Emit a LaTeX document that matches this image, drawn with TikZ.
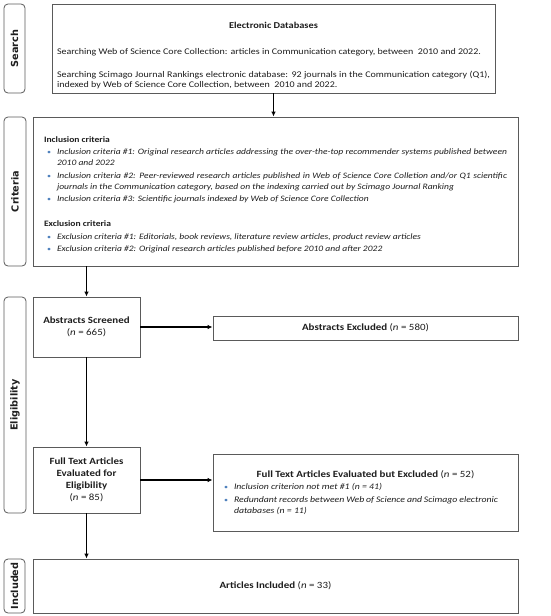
\documentclass[tikz,border=0pt]{standalone}
\usepackage{fontspec}
\setmainfont{Carlito}[FakeStretch=1.15]
\newfontfamily\stagefont{DejaVu Sans}
\usetikzlibrary{arrows.meta,positioning}
\definecolor{linegray}{HTML}{5A5A5A}
\definecolor{dotblue}{HTML}{4F81BD}
\definecolor{inkblack}{HTML}{1E1E1E}
\newcommand{\bulletitem}[1]{\par\vspace{1.5pt}\noindent\hangindent=13pt\hangafter=1\makebox[13pt][l]{\hspace{3pt}\textcolor{dotblue}{\scriptsize\textbullet}}\textit{#1}\par}
\newcommand{\nohyph}{\hyphenpenalty=10000\exhyphenpenalty=10000\relax}
\tikzset{basic/.style={draw=linegray,line width=0.8pt,fill=white,text=inkblack,inner sep=0pt}}
\tikzset{stage/.style={basic,rounded corners=4pt,rotate=90,font=\stagefont\bfseries\fontsize{9.7}{10}\selectfont}}
\tikzset{stepbox/.style={basic,align=center,font=\fontsize{9.5}{12.5}\selectfont}}
\tikzset{listbox/.style={basic,align=justify,font=\fontsize{8.3}{11}\selectfont\nohyph}}
\tikzset{arrow/.style={draw,line width=1.4pt,-{Latex[length=5pt,width=4.5pt]}}}

\begin{document}
\begin{tikzpicture}[x=1pt,y=1pt]
    \useasboundingbox (0,0) rectangle (550,-616);

    % stage labels on the left
    \node[stage,minimum width=89pt,minimum height=21pt] (search) at (14.5,-48.5) {Search};
    \node[stage,minimum width=149pt,minimum height=22pt] (criteria) at (15,-191.5) {Criteria};
    \node[stage,minimum width=216pt,minimum height=22pt] (eligibility) at (15,-405) {Eligibility};
    \node[stage,minimum width=54pt,minimum height=21pt] (included) at (14.5,-586) {Included};

    % search and criteria boxes
    \node[listbox,minimum width=443pt,minimum height=89pt,text width=433pt,font=\fontsize{8.7}{10.5}\selectfont\nohyph] (db) at (273.5,-48.5) {%
        {\centering\rule{0pt}{20pt}\fontsize{9}{10.5}\selectfont\bfseries Electronic Databases\par}
        \vspace{15.5pt}
        Searching Web of Science Core Collection: articles in Communication category, between\ \ 2010 and 2022.\par
        \vspace{12.5pt}
        Searching Scimago Journal Rankings electronic database: 92 journals in the Communication category (Q1), indexed by Web of Science Core Collection, between\ \ 2010 and 2022.\par};
    \node[listbox,minimum width=485pt,minimum height=149pt,text width=463pt] (crit) at (275.5,-191.5) {%
        \rule{0pt}{12pt}\textbf{Inclusion criteria}
        \bulletitem{Inclusion criteria \#1: Original research articles addressing the over-the-top recommender systems published between 2010 and 2022}
        \bulletitem{Inclusion criteria \#2: Peer-reviewed research articles published in Web of Science Core Colletion and/or Q1 scientific journals in the Communication category, based on the indexing carried out by Scimago Journal Ranking}
        \bulletitem{Inclusion criteria \#3: Scientific journals indexed by Web of Science Core Collection}
        \vspace{14pt}
        \noindent\textbf{Exclusion criteria}
        \bulletitem{Exclusion criteria \#1: Editorials, book reviews, literature review articles, product review articles}
        \bulletitem{Exclusion criteria \#2: Original research articles published before 2010 and after 2022}};

    % screening steps
    \node[stepbox,minimum width=107pt,minimum height=60pt] (screened) at (86.5,-327) {\textbf{Abstracts Screened}\\(\textit{n} = 665)};
    \node[stepbox,right of=screened,node distance=279pt,yshift=-1pt,minimum width=305pt,minimum height=24pt] (abex) {\textbf{Abstracts Excluded} (\textit{n} = 580)};
    \node[stepbox,below of=screened,node distance=153pt,minimum width=107pt,minimum height=66pt,font=\fontsize{9.5}{12}\selectfont] (full) {\textbf{Full Text Articles}\\\textbf{Evaluated for}\\\textbf{Eligibility}\\(\textit{n} = 85)};
    \node[listbox,right of=full,node distance=279pt,yshift=-12.5pt,minimum width=305pt,minimum height=77pt,text width=289pt,font=\fontsize{8.5}{11}\selectfont\nohyph] (fullex) {%
        {\centering\fontsize{9.5}{12}\selectfont\textbf{Full Text Articles Evaluated but Excluded} (\textit{n} = 52)\par}
        \rightskip=12pt
        \bulletitem{Inclusion criterion not met \#1 (n = 41)}
        \bulletitem{Redundant records between Web of Science and Scimago electronic databases (n = 11)}};
    \node[stepbox,minimum width=485pt,minimum height=54pt] (incl) at (275.5,-586) {\textbf{Articles Included} (\textit{n} = 33)};

    \path[arrow] (db.south) -- (db.south |- crit.north);
    \path[arrow] (crit.south -| screened) -- (screened.north);
    \path[arrow] (screened.east) -- (screened.east -| abex.west);
    \path[arrow] (screened.south) -- (full.north);
    \path[arrow] (full.east) -- (full.east -| fullex.west);
    \path[arrow] (full.south) -- (full.south |- incl.north);
\end{tikzpicture}
\end{document}
